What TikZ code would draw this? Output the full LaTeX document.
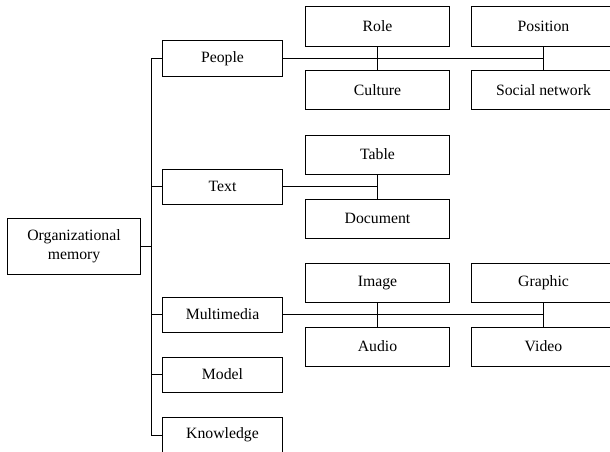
\documentclass[tikz,border=0pt]{standalone}
\usepackage{fontspec}
\setmainfont{Liberation Serif}
\usepackage{tikz}
\usetikzlibrary{positioning}

\begin{document}
\begin{tikzpicture}[x=0.025cm, y=-0.025cm, line width=0.7pt,
        font=\fontsize{11.2}{13.5}\selectfont,
        rootbox/.style={draw, align=center, minimum width=3.3cm, minimum height=1.4cm, inner sep=0pt},
        groupbox/.style={draw, minimum width=2.975cm, minimum height=0.875cm, inner sep=0pt},
        itembox/.style={draw, minimum width=3.575cm, minimum height=0.975cm, inner sep=0pt}]
            \useasboundingbox (0,0) rectangle (610,452);

            \node (memory) at (74,246) [rootbox] {Organizational\\memory};

            \node (people) at (222.5,58.5) [groupbox] {People};
            \node (text) at (222.5,186.5) [groupbox] {Text};
            \node (multimedia) at (222.5,314.5) [groupbox] {Multimedia};
            \node (model) at (222.5,374.5) [groupbox] {Model};
            \node (knowledge) at (222.5,435) [groupbox] {Knowledge};

            \node (role) at (377.5,26.5) [itembox] {Role};
            \node (culture) at (377.5,90) [itembox] {Culture};
            \node (position) at (543.5,26.5) [itembox] {Position};
            \node (socialnet) at (543.5,90) [itembox] {Social network};

            \node (table) at (377.5,154.5) [itembox] {Table};
            \node (document) at (377.5,218.5) [itembox] {Document};

            \node (image) at (377.5,283) [itembox] {Image};
            \node (audio) at (377.5,346.5) [itembox] {Audio};
            \node (graphic) at (543.5,283) [itembox] {Graphic};
            \node (video) at (543.5,346.5) [itembox] {Video};

            \draw (memory.east) -- ++(11,0) coordinate (trunk);
            \foreach \g in {people,text,multimedia,model,knowledge}
                \draw (trunk) |- (\g.west);

            \draw (people.east) -- (people.east -| position.south);
            \draw (role) -- (culture);
            \draw (position) -- (socialnet);

            \draw (text.east) -- (text.east -| table.south);
            \draw (table) -- (document);

            \draw (multimedia.east) -- (multimedia.east -| graphic.south);
            \draw (image) -- (audio);
            \draw (graphic) -- (video);
        \end{tikzpicture}
\end{document}
